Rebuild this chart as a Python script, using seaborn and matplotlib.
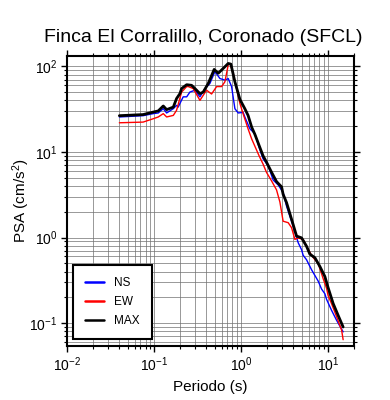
import matplotlib
matplotlib.use("Agg")
import matplotlib.pyplot as plt
import matplotlib.ticker as mticker
import seaborn as sns
import pandas as pd

# ---- data ----
ns_period = [0.04, 0.075, 0.098, 0.112, 0.128, 0.14, 0.167, 0.182, 0.19, 0.217, 0.238,
             0.259, 0.296, 0.338, 0.386, 0.44, 0.503, 0.574, 0.655, 0.715, 0.782, 0.853,
             0.931, 1.06, 1.11, 1.27, 1.45, 1.62, 1.80, 2.06, 2.35, 2.69, 3.06, 3.35,
             3.99, 4.56, 4.99, 5.2, 5.69, 6.5, 7.1, 7.74, 8.47, 9.25, 9.66, 11.0, 12.6, 15.0]
ns_psa = [25.6, 26.5, 28.0, 28.5, 32.0, 28.5, 32.0, 35.0, 33.4, 44.0, 44.0,
          50.0, 52.6, 44.0, 55.0, 63.0, 87.0, 72.0, 69.0, 72.0, 58.0, 32.0,
          28.5, 29.0, 25.6, 18.6, 16.3, 11.3, 8.3, 6.9, 4.7, 4.1, 3.36, 2.33,
          1.36, 0.87, 0.72, 0.62, 0.55, 0.42, 0.36, 0.31, 0.25, 0.22, 0.19, 0.142, 0.108, 0.079]

ew_period = [0.04, 0.075, 0.098, 0.112, 0.128, 0.14, 0.167, 0.182, 0.208, 0.238, 0.248,
             0.283, 0.338, 0.403, 0.46, 0.526, 0.6, 0.655, 0.715, 0.748, 0.815, 0.975,
             1.06, 1.21, 1.33, 1.62, 1.80, 1.97, 2.25, 2.57, 2.81, 3.06, 3.5, 3.83,
             4.18, 4.56, 5.2, 5.69, 6.5, 7.1, 7.74, 8.84, 9.66, 10.07, 11.0, 12.6, 14.4, 15.0]
ew_psa = [21.9, 22.3, 24.4, 25.6, 28.0, 25.6, 26.7, 30.6, 50.0, 58.0, 58.0,
          55.0, 40.0, 52.6, 47.5, 58.0, 58.0, 66.0, 104.0, 108.0, 83.0, 36.7,
          28.0, 18.6, 14.2, 9.0, 7.2, 5.77, 4.6, 3.6, 2.6, 1.55, 1.49, 1.3,
          0.95, 0.99, 0.95, 0.79, 0.62, 0.55, 0.5, 0.33, 0.256, 0.21, 0.17, 0.119, 0.083, 0.064]

max_period = [0.04, 0.075, 0.098, 0.112, 0.128, 0.14, 0.167, 0.182, 0.199, 0.208, 0.238,
              0.271, 0.296, 0.338, 0.369, 0.421, 0.493, 0.549, 0.626, 0.715, 0.768, 0.853,
              0.975, 1.11, 1.21, 1.33, 1.45, 1.62, 1.80, 1.97, 2.25, 2.57, 2.94, 3.06,
              3.35, 3.83, 4.37, 4.99, 5.69, 6.21, 7.1, 8.09, 9.25, 10.07, 11.5, 13.1, 15.0]
max_psa = [26.5, 27.3, 29.2, 30.1, 34.4, 31.2, 33.4, 42.0, 48.0, 55.0, 61.0,
           60.0, 55.0, 48.0, 50.0, 63.0, 92.0, 83.0, 94.5, 108.0, 106.0, 66.0,
           41.0, 32.0, 26.7, 19.5, 16.0, 11.9, 9.0, 7.6, 5.8, 4.5, 3.9, 3.2,
           2.56, 1.63, 1.04, 0.99, 0.79, 0.64, 0.58, 0.46, 0.35, 0.26, 0.17, 0.124, 0.09]

series_names = ["NS", "EW", "MAX"]
series_colors = ["#0000ff", "#ff0000", "#000000"]
series_widths = [1.0, 1.0, 2.0]

title = "Finca El Corralillo, Coronado (SFCL)"
xlabel = "Periodo (s)"
ylabel = "PSA (cm/s$^2$)"

# ---- style ----
sns.set_theme(style="white")
plt.rcParams["font.family"] = ["Liberation Sans", "DejaVu Sans"]
plt.rcParams["mathtext.fontset"] = "custom"
plt.rcParams["mathtext.rm"] = "Liberation Sans"
plt.rcParams["mathtext.it"] = "Liberation Sans:italic"
for k in ["text.color", "axes.labelcolor", "xtick.color", "ytick.color"]:
    plt.rcParams[k] = "black"

fig = plt.figure(figsize=(3.9, 4.0), dpi=100)
ax = fig.add_axes([67 / 390, 1 - 346 / 400, (354 - 67) / 390, (346 - 56) / 400])

data = [(ns_period, ns_psa), (ew_period, ew_psa), (max_period, max_psa)]
for (p, v), name, c, w in zip(data, series_names, series_colors, series_widths):
    df = pd.DataFrame({"period": p, "psa": v})
    sns.lineplot(data=df, x="period", y="psa", ax=ax, color=c, linewidth=w,
                 label=name, estimator=None, sort=False, zorder=3)

ax.set_xscale("log")
ax.set_yscale("log")
ax.set_xlim(0.01, 20)
ax.set_ylim(0.054, 132)

ax.xaxis.set_major_locator(mticker.LogLocator(base=10, numticks=10))
ax.yaxis.set_major_locator(mticker.LogLocator(base=10, numticks=10))
ax.xaxis.set_minor_locator(mticker.LogLocator(base=10, subs=range(2, 10), numticks=20))
ax.yaxis.set_minor_locator(mticker.LogLocator(base=10, subs=range(2, 10), numticks=20))
ax.xaxis.set_minor_formatter(mticker.NullFormatter())
ax.yaxis.set_minor_formatter(mticker.NullFormatter())

ax.grid(True, which="both", color="#707070", linewidth=0.5, zorder=1)
ax.set_axisbelow(True)

for s in ax.spines.values():
    s.set_linewidth(1.5)
    s.set_color("black")

ax.tick_params(which="major", direction="out", length=4, width=1.0, labelsize=10,
               top=True, right=True, bottom=True, left=True, pad=3)
ax.tick_params(which="minor", direction="out", length=2, width=0.8,
               top=True, right=True, bottom=True, left=True)

ax.set_title(title, fontsize=14, pad=10, x=0.476)
ax.set_xlabel(xlabel, fontsize=11, labelpad=4)
ax.set_ylabel(ylabel, fontsize=11, labelpad=-2)

leg = ax.legend(loc="lower left", bbox_to_anchor=(0.021, 0.024), fontsize=8.5,
                frameon=True, fancybox=False, edgecolor="black", framealpha=1,
                handlelength=1.6, handletextpad=0.9, borderpad=1.0, labelspacing=0.6,
                borderaxespad=0)
leg.get_frame().set_linewidth(1.5)
for line in leg.get_lines():
    line.set_linewidth(1.8)

fig.savefig("out.png", dpi=100)
